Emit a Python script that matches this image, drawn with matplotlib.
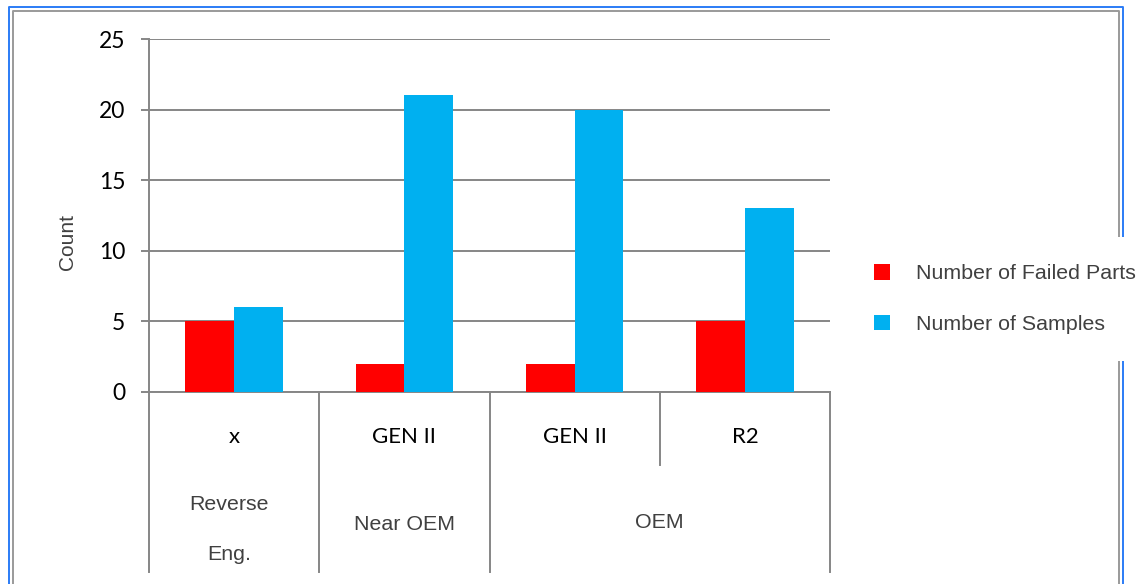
import matplotlib
matplotlib.use("Agg")
import matplotlib.pyplot as plt
import matplotlib.transforms as mtransforms
from matplotlib.lines import Line2D

# ---- data ----
categories = ['x', 'GEN II', 'GEN II', 'R2']
groups = ['Reverse\n\nEng.', 'Near OEM', 'OEM']
group_spans = [(0, 0), (1, 1), (2, 3)]
failed = [5, 2, 2, 5]
samples = [6, 21, 20, 13]
series_names = ['Number of Failed Parts', 'Number of Samples']
yticks = [0, 5, 10, 15, 20, 25]

W, H = 1137, 584
fig = plt.figure(figsize=(W / 100, H / 100), dpi=100)
fig.patch.set_facecolor('white')

def fx(px):
    return px / W

def fy(py):
    return 1 - py / H

ax = fig.add_axes([fx(149), fy(392), fx(830) - fx(149), fy(39) - fy(392)])

GRID = '#868686'
RED = '#FF0000'
BLUE = '#00B0F0'
TXT = '#404040'

x = list(range(len(categories)))
bw = 0.287
off = 0.143
b1 = ax.bar([i - off for i in x], failed, width=bw, color=RED, zorder=3, label=series_names[0])
b2 = ax.bar([i + off for i in x], samples, width=bw, color=BLUE, zorder=3, label=series_names[1])

ax.set_xlim(-0.5, len(categories) - 0.5)
ax.set_ylim(0, 25)
ax.set_yticks(yticks)
ax.set_yticklabels([str(v) for v in yticks], family='Lato', fontsize=16.5, color='black')
ax.yaxis.grid(True, color=GRID, linewidth=1.4, zorder=0)
ax.set_axisbelow(True)
ax.set_xticks([])
for s in ['top', 'right']:
    ax.spines[s].set_visible(False)
for s in ['left', 'bottom']:
    ax.spines[s].set_color(GRID)
    ax.spines[s].set_linewidth(1.4)
ax.tick_params(axis='y', length=6, width=1.4, color=GRID, pad=11)

ax.set_ylabel('Count', family='Liberation Sans', fontsize=15, color=TXT)
ax.yaxis.label.set_va('center')
ax.yaxis.set_label_coords(-0.12, 0.425)

# ---- multi-level category axis ----
tr = mtransforms.blended_transform_factory(ax.transData, fig.transFigure)
for i, c in enumerate(categories):
    ax.text(i, fy(437), c, transform=tr, ha='center', va='center',
            family='Lato', fontsize=16, color='black', clip_on=False)

group_edges = set()
for (a, b) in group_spans:
    group_edges.add(a - 0.5)
    group_edges.add(b + 0.5)
for k in range(len(categories) + 1):
    xe = k - 0.5
    ybot = fy(572) if xe in group_edges else fy(465)
    fig.add_artist(Line2D([xe, xe], [fy(392), ybot], transform=tr,
                          color=GRID, linewidth=1.4))

group_y = [fy(529), fy(525), fy(523)]
for g, (a, b), gy in zip(groups, group_spans, group_y):
    ax.text((a + b) / 2 - (0.03 if a == b == 0 else 0), gy, g, transform=tr,
            ha='center', va='center',
            family='Liberation Sans', fontsize=15.4, color=TXT,
            linespacing=1.4, clip_on=False)

# ---- frame border ----
BORDER_BLUE = '#2b7cf6'
BORDER_GRAY = '#9a9a9a'
fig.add_artist(Line2D([fx(9), fx(9), fx(1123), fx(1123)],
                      [fy(600), fy(7), fy(7), fy(600)],
                      transform=fig.transFigure, color=BORDER_BLUE,
                      linewidth=1.4, zorder=1))
fig.add_artist(Line2D([fx(13), fx(13), fx(1119), fx(1119)],
                      [fy(600), fy(11), fy(11), fy(600)],
                      transform=fig.transFigure, color=BORDER_GRAY,
                      linewidth=1.4, zorder=1))

# ---- legend ----
leg = fig.legend(handles=[b1, b2], labels=series_names,
                 loc='center left', bbox_to_anchor=(fx(847), fy(299)),
                 bbox_transform=fig.transFigure,
                 prop={'family': 'Liberation Sans', 'size': 15.4},
                 handlelength=0.75, handleheight=0.75, handletextpad=1.22,
                 labelspacing=1.48, borderpad=1.25, borderaxespad=0,
                 frameon=True, fancybox=False)
leg.get_frame().set_facecolor('white')
leg.get_frame().set_edgecolor('none')
leg.get_frame().set_alpha(1)
leg.set_zorder(5)
for t in leg.get_texts():
    t.set_color(TXT)

fig.savefig('out.png', dpi=100, facecolor='white')
